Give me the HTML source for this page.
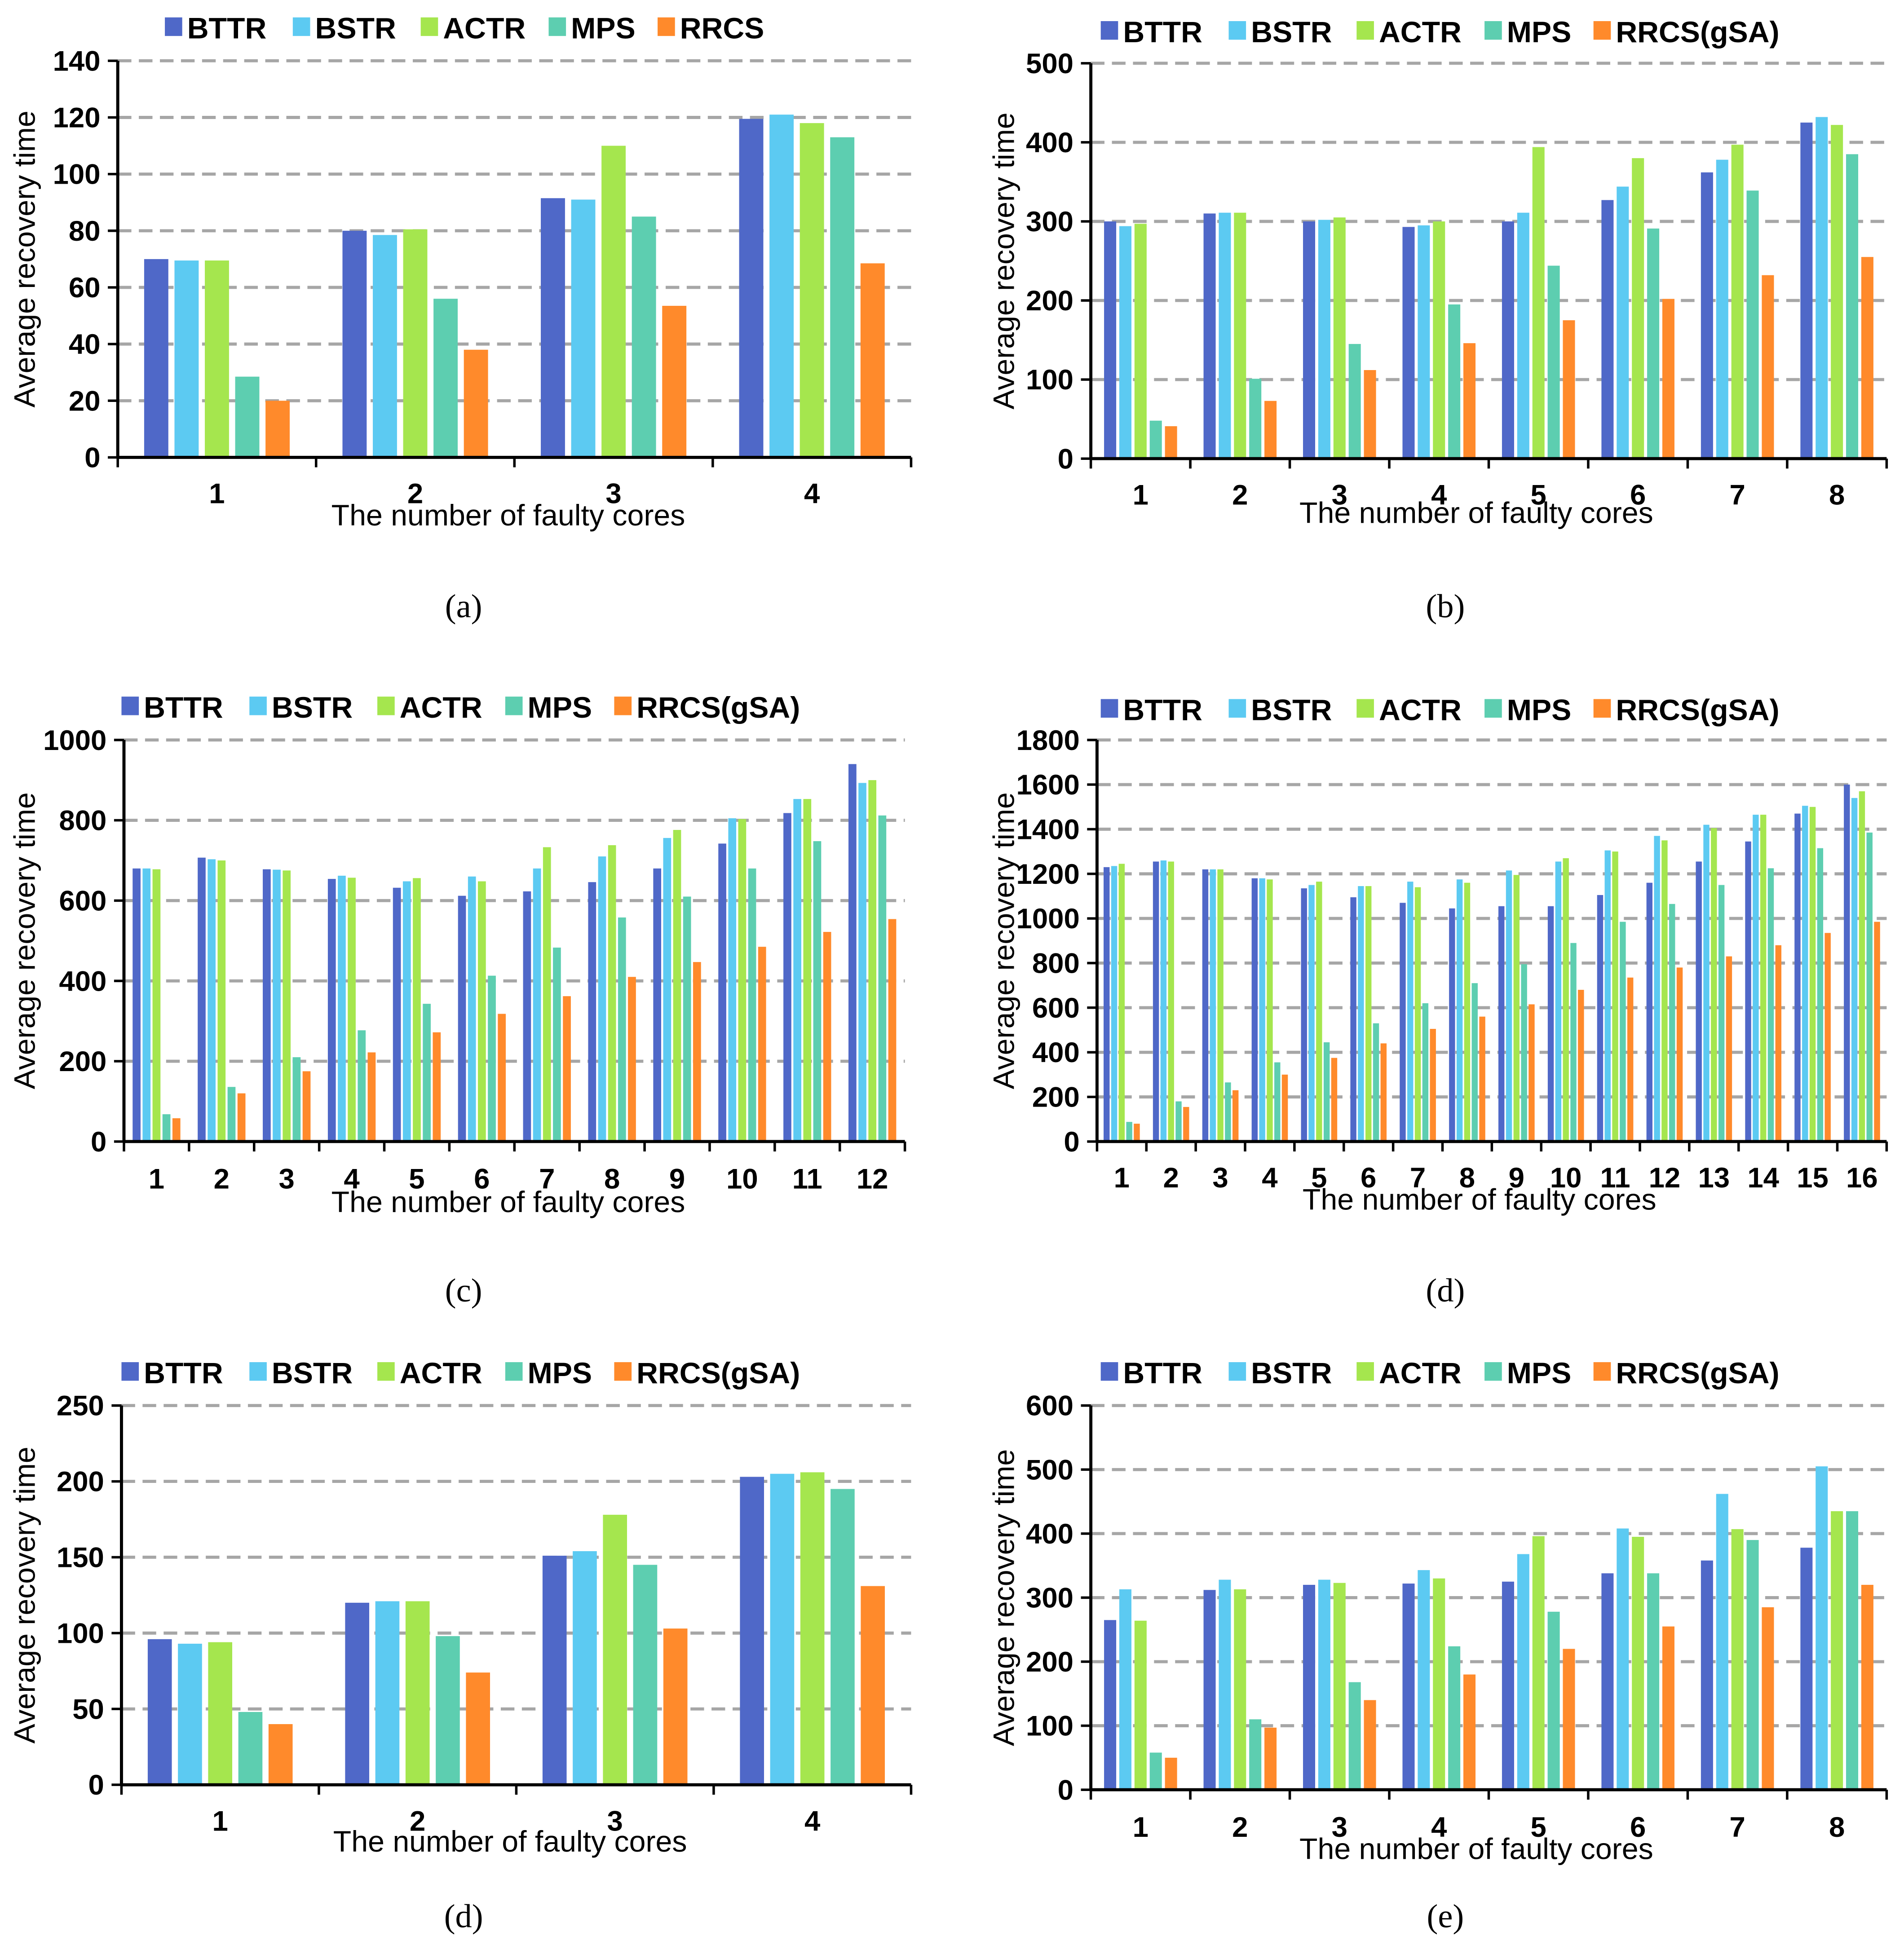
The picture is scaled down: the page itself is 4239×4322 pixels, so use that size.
<!DOCTYPE html>
<html><head><meta charset="utf-8">
<style>
html,body{margin:0;padding:0;background:#fff;}
svg{display:block;}
text{font-family:"Liberation Sans",Arial,sans-serif;}
</style></head>
<body>
<svg id="chart" width="4239" height="4322" viewBox="0 0 1536 1566" xmlns="http://www.w3.org/2000/svg"></svg>
<script>
const seriesNames = ["BTTR","BSTR","ACTR","MPS","RRCS"];
const colors = ["#4f68c8","#5ccaf2","#a5e64e","#5dceb0","#ff8a2b"];

const aBTTR=[70,80,91.5,119.5], aBSTR=[69.5,78.5,91,121], aACTR=[69.5,80.5,110,118], aMPS=[28.5,56,85,113], aRRCS=[20,38,53.5,68.5];
const bBTTR=[300,310,300,293,300,327,362,425], bBSTR=[294,311,302,295,311,344,378,432], bACTR=[297,311,305,300,394,380,397,422], bMPS=[48,101,145,195,244,291,339,385], bRRCS=[41,73,112,146,175,202,232,255];
const cBTTR=[680,707,678,654,632,612,623,646,680,742,818,940], cBSTR=[680,703,677,662,648,660,680,710,756,805,853,893], cACTR=[678,700,675,657,656,648,733,738,776,803,853,900], cMPS=[68,136,210,277,343,413,483,558,610,680,748,812], cRRCS=[58,120,175,222,272,318,362,410,447,485,522,554];
const dBTTR=[1230,1255,1220,1180,1135,1095,1070,1045,1055,1055,1105,1160,1255,1345,1470,1600], dBSTR=[1235,1260,1220,1180,1150,1145,1165,1175,1215,1255,1305,1370,1420,1465,1505,1540], dACTR=[1245,1255,1220,1175,1165,1145,1140,1160,1195,1270,1300,1350,1405,1465,1500,1570], dMPS=[88,180,265,355,445,530,620,710,795,890,985,1065,1150,1225,1315,1385], dRRCS=[80,155,230,300,375,440,505,560,615,680,735,780,830,880,935,985];
const eBTTR=[96,120,151,203], eBSTR=[93,121,154,205], eACTR=[94,121,178,206], eMPS=[48,98,145,195], eRRCS=[40,74,103,131];
const fBTTR=[265,312,320,322,325,338,358,378], fBSTR=[313,328,328,343,368,408,462,505], fACTR=[264,313,323,330,396,395,407,435], fMPS=[58,110,168,224,278,338,390,435], fRRCS=[50,97,140,180,220,255,285,320];
const yTicksA=[0,20,40,60,80,100,120,140], yTicksB=[0,100,200,300,400,500], yTicksC=[0,200,400,600,800,1000], yTicksD=[0,200,400,600,800,1000,1200,1400,1600,1800], yTicksE=[0,50,100,150,200,250], yTicksF=[0,100,200,300,400,500,600];

const panels=[
 {id:"a",cap:"(a)",last:"RRCS",x0:95,x1:735,y0:369,y1:49,max:140,ticks:yTicksA,data:[aBTTR,aBSTR,aACTR,aMPS,aRRCS],legY:22,legX:133,catY:398,titleY:416,ytX:20,capX:374,capY:489},
 {id:"b",cap:"(b)",last:"RRCS(gSA)",x0:880,x1:1522,y0:370,y1:51,max:500,ticks:yTicksB,data:[bBTTR,bBSTR,bACTR,bMPS,bRRCS],legY:25,legX:888,catY:399,titleY:414,ytX:810,capX:1166,capY:489},
 {id:"c",cap:"(c)",last:"RRCS(gSA)",x0:100,x1:730,y0:921,y1:597,max:1000,ticks:yTicksC,data:[cBTTR,cBSTR,cACTR,cMPS,cRRCS],legY:570,legX:98,catY:951,titleY:970,ytX:20,capX:374,capY:1041},
 {id:"d",cap:"(d)",last:"RRCS(gSA)",x0:885,x1:1522,y0:921,y1:597,max:1800,ticks:yTicksD,data:[dBTTR,dBSTR,dACTR,dMPS,dRRCS],legY:572,legX:888,catY:950,titleY:968,ytX:810,capX:1166,capY:1041},
 {id:"e",cap:"(d)",last:"RRCS(gSA)",x0:98,x1:735,y0:1440,y1:1134,max:250,ticks:yTicksE,data:[eBTTR,eBSTR,eACTR,eMPS,eRRCS],legY:1107,legX:98,catY:1469,titleY:1486,ytX:20,capX:374,capY:1546},
 {id:"f",cap:"(e)",last:"RRCS(gSA)",x0:880,x1:1522,y0:1444,y1:1134,max:600,ticks:yTicksF,data:[fBTTR,fBSTR,fACTR,fMPS,fRRCS],legY:1107,legX:888,catY:1474,titleY:1492,ytX:810,capX:1166,capY:1546}
];
const svg=document.getElementById('chart');
const NS="http://www.w3.org/2000/svg";
function mk(tag,attrs,parent){const e=document.createElementNS(NS,tag);for(const k in attrs)e.setAttribute(k,attrs[k]);(parent||svg).appendChild(e);return e;}

panels.forEach(p=>{
 const g=mk('g',{});
 
 
 const yS=v=>p.y0-(v/p.max)*(p.y0-p.y1);
 const n=p.data[0].length, gw=(p.x1-p.x0)/n;
 p.ticks.forEach(t=>{
  const y=yS(t);
  if(t>0){const gl=mk('line',{x1:p.x0,x2:p.x1,y1:y,y2:y,stroke:'#a6a6a6','stroke-width':2.5,'stroke-dasharray':'11 6'},g);
   }
  const tm=mk('line',{x1:p.x0-8,x2:p.x0,y1:y,y2:y,stroke:'#000','stroke-width':2},g);
  
  const tl=mk('text',{x:p.x0-14,y:y+8,'text-anchor':'end','font-size':23,'font-weight':'bold'},g);
  tl.textContent=t;
  
 });
 p.data.forEach((arr,s)=>{
  arr.forEach((v,i)=>{
   const bw=gw*0.122, step=gw*0.153;
   const cx=p.x0+gw*(i+0.5);
   const x=cx+(s-2)*step-bw/2;
   const r=mk('rect',{x:x,y:yS(v),width:bw,height:p.y0-yS(v),fill:colors[s]},g);
   
   
  });
 });
 for(let i=0;i<=n;i++){
  const x=p.x0+gw*i;
  const tk=mk('line',{x1:x,x2:x,y1:p.y0,y2:p.y0+8,stroke:'#000','stroke-width':2},g);
  
 }
 for(let i=0;i<n;i++){
  const cl=mk('text',{x:p.x0+gw*(i+0.5),y:p.catY+8,'text-anchor':'middle','font-size':23,'font-weight':'bold'},g);
  cl.textContent=i+1;
  
 }
 const ya=mk('line',{x1:p.x0,x2:p.x0,y1:p.y1,y2:p.y0,stroke:'#000','stroke-width':2.5},g);
 
 const xa=mk('line',{x1:p.x0,x2:p.x1,y1:p.y0,y2:p.y0,stroke:'#000','stroke-width':2.5},g);
 
 const xt=mk('text',{x:(p.x0+p.x1)/2+(p.id=='a'||p.id=='c'||p.id=='e'?-5:-10),y:p.titleY+8,'text-anchor':'middle','font-size':24},g);
 xt.textContent='The number of faulty cores';
 
 const ym=(p.y0+p.y1)/2;
 const yt=mk('text',{x:p.ytX+8,y:ym,'text-anchor':'middle','font-size':24,transform:`rotate(-90 ${p.ytX+8} ${ym})`},g);
 yt.textContent='Average recovery time';
 
 let lx=p.legX;
 seriesNames.forEach((nm,s)=>{
  const lab=s==4?p.last:nm;
  const sq=mk('rect',{x:lx,y:p.legY-8,width:14,height:15,fill:colors[s]},g);
  
  const lt=mk('text',{x:lx+18,y:p.legY+9,'font-size':24,'font-weight':'bold'},g);
  lt.textContent=lab;
  
  lx+=18+lab.length*15.3+24;
 });
 const cp=mk('text',{x:p.capX,y:p.capY+9,'text-anchor':'middle','font-size':27,style:'font-family:"Liberation Serif",serif'},g);
 cp.textContent=p.cap;
 
});
</script>
</body></html>
